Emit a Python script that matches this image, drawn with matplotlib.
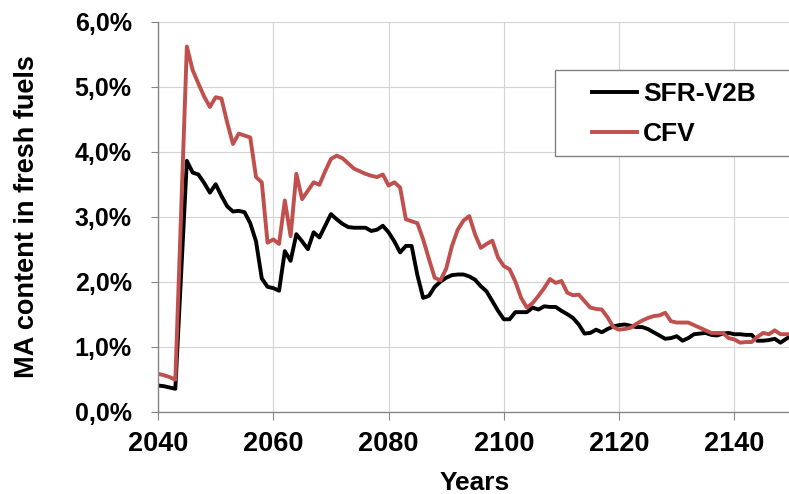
import matplotlib
matplotlib.use("Agg")
import matplotlib.pyplot as plt
from matplotlib.patches import Rectangle
from matplotlib.ticker import FuncFormatter

plt.rcParams['font.family'] = ['Liberation Sans', 'DejaVu Sans']
plt.rcParams['font.weight'] = 'bold'

# Data (MA content, %)
sfr_years = [2040, 2041, 2042, 2043, 2045, 2046, 2047, 2048, 2049, 2050,
             2051, 2052, 2053, 2054, 2055, 2056, 2057, 2058, 2059, 2060,
             2061, 2062, 2063, 2064, 2065, 2066, 2067, 2068, 2069, 2070,
             2071, 2072, 2073, 2074, 2075, 2076, 2077, 2078, 2079, 2080,
             2081, 2082, 2083, 2084, 2085, 2086, 2087, 2088, 2089, 2090,
             2091, 2092, 2093, 2094, 2095, 2096, 2097, 2098, 2099, 2100,
             2101, 2102, 2103, 2104, 2105, 2106, 2107, 2108, 2109, 2110,
             2111, 2112, 2113, 2114, 2115, 2116, 2117, 2118, 2119, 2120,
             2121, 2122, 2123, 2124, 2125, 2126, 2127, 2128, 2129, 2130,
             2131, 2132, 2133, 2134, 2135, 2136, 2137, 2138, 2139, 2140,
             2141, 2142, 2143, 2144, 2145, 2146, 2147, 2148, 2149, 2150]
sfr_values = [0.40, 0.39, 0.37, 0.35, 3.86, 3.68, 3.65, 3.52, 3.37, 3.50,
              3.32, 3.16, 3.08, 3.09, 3.07, 2.90, 2.62, 2.05, 1.92, 1.90,
              1.86, 2.47, 2.32, 2.73, 2.62, 2.50, 2.76, 2.68, 2.86, 3.04,
              2.96, 2.89, 2.84, 2.83, 2.83, 2.83, 2.78, 2.80, 2.86, 2.76,
              2.62, 2.45, 2.55, 2.55, 2.10, 1.75, 1.78, 1.92, 2.00, 2.06,
              2.10, 2.11, 2.11, 2.08, 2.03, 1.93, 1.85, 1.70, 1.55, 1.42,
              1.42, 1.53, 1.53, 1.53, 1.60, 1.57, 1.62, 1.61, 1.61, 1.55,
              1.50, 1.44, 1.34, 1.20, 1.21, 1.26, 1.22, 1.27, 1.31, 1.33,
              1.34, 1.32, 1.30, 1.30, 1.27, 1.22, 1.17, 1.12, 1.13, 1.16,
              1.09, 1.13, 1.19, 1.20, 1.21, 1.18, 1.17, 1.20, 1.21, 1.19,
              1.19, 1.18, 1.18, 1.09, 1.09, 1.10, 1.12, 1.06, 1.12, 1.17]

cfv_years = sfr_years
cfv_values = [0.58, 0.56, 0.53, 0.49, 5.62, 5.26, 5.05, 4.85, 4.69, 4.84,
              4.82, 4.45, 4.12, 4.28, 4.25, 4.22, 3.61, 3.53, 2.60, 2.65,
              2.58, 3.25, 2.70, 3.66, 3.27, 3.40, 3.53, 3.49, 3.70, 3.89,
              3.94, 3.90, 3.82, 3.74, 3.70, 3.66, 3.63, 3.61, 3.65, 3.48,
              3.53, 3.45, 2.96, 2.93, 2.90, 2.65, 2.35, 2.06, 2.02, 2.20,
              2.55, 2.80, 2.94, 3.01, 2.73, 2.52, 2.58, 2.63, 2.37, 2.24,
              2.19, 2.00, 1.75, 1.60, 1.67, 1.78, 1.90, 2.04, 1.98, 2.01,
              1.83, 1.79, 1.80, 1.70, 1.60, 1.58, 1.57, 1.45, 1.30, 1.26,
              1.27, 1.29, 1.35, 1.40, 1.44, 1.47, 1.48, 1.52, 1.39, 1.37,
              1.37, 1.37, 1.33, 1.29, 1.25, 1.21, 1.21, 1.21, 1.13, 1.11,
              1.06, 1.07, 1.07, 1.15, 1.21, 1.19, 1.25, 1.19, 1.19, 1.19]

x_ticks = [2040, 2060, 2080, 2100, 2120, 2140]
y_ticks = [0, 1, 2, 3, 4, 5, 6]

fig = plt.figure(figsize=(7.89, 4.94), dpi=100)
ax = fig.add_axes([0.2003, 0.167, 0.8035, 0.7887])

ax.plot(sfr_years, sfr_values, color='black', lw=2.8, label='SFR-V2B')
ax.plot(cfv_years, cfv_values, color='#C0504D', lw=2.8, label='CFV')

ax.set_xlim(2040, 2150)
ax.set_ylim(0, 6)
ax.set_xticks(x_ticks)
ax.set_yticks(y_ticks)
ax.yaxis.set_major_formatter(FuncFormatter(lambda v, p: f"{v:.1f}%".replace('.', ',')))

ax.grid(True, color='#D4D4D4', lw=0.8)
ax.set_axisbelow(True)
for s in ['top', 'right']:
    ax.spines[s].set_visible(False)
for s in ['left', 'bottom']:
    ax.spines[s].set_color('#868686')
    ax.spines[s].set_linewidth(1.0)

ax.tick_params(axis='y', length=5, color='#868686', pad=14, labelsize=18)
ax.tick_params(axis='x', length=6, color='#868686', pad=8, labelsize=19.5)

ax.set_xlabel('Years', fontsize=19, fontweight='bold', labelpad=10)
ax.set_ylabel('MA content in fresh fuels', fontsize=19.5, fontweight='bold', labelpad=25)

# legend frame runs off the right edge in the original
fig.patches.append(Rectangle((555 / 789, 1 - 156 / 494), 0.32, 86 / 494,
                             transform=fig.transFigure, facecolor='white',
                             edgecolor='#808080', lw=1.0, zorder=5))
leg = fig.legend(loc='upper left', bbox_to_anchor=(592 / 789, 1 - 82 / 494),
                 frameon=False, fontsize=19, handlelength=1.7,
                 handletextpad=0.23, labelspacing=0.6, borderpad=0,
                 borderaxespad=0)
leg.set_zorder(6)

fig.savefig('out.png', dpi=100)
